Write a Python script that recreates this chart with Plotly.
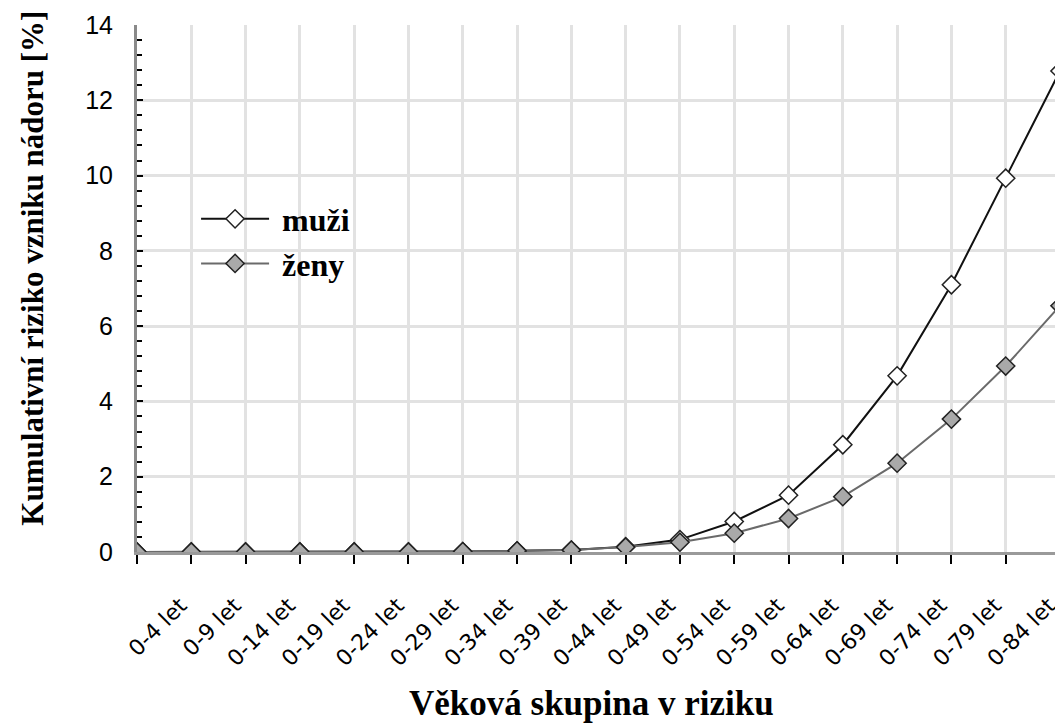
import plotly.graph_objects as go

# age groups (first position is the unlabeled start point at the y axis)
age_labels = ["", "0-4 let", "0-9 let", "0-14 let", "0-19 let", "0-24 let", "0-29 let",
              "0-34 let", "0-39 let", "0-44 let", "0-49 let", "0-54 let", "0-59 let",
              "0-64 let", "0-69 let", "0-74 let", "0-79 let", "0-84 let"]
positions = list(range(len(age_labels)))

muzi = [0, 0, 0, 0, 0, 0, 0.01, 0.03, 0.05, 0.14, 0.33, 0.81, 1.51, 2.85, 4.68, 7.1, 9.93, 12.78]
zeny = [0, 0, 0, 0, 0, 0, 0.01, 0.03, 0.05, 0.13, 0.26, 0.5, 0.89, 1.47, 2.36, 3.53, 4.94, 6.54]

SERIF = "Liberation Serif"
SANS = "Liberation Sans"

fig = go.Figure()
fig.add_trace(go.Scatter(
    x=positions, y=muzi, name="<b>\u00a0muži</b>", mode="lines+markers", legendrank=1,
    line=dict(color="#111111", width=2),
    marker=dict(symbol="diamond", size=14, color="white", line=dict(color="#222222", width=1.5)),
))
fig.add_trace(go.Scatter(
    x=positions, y=zeny, name="<b>\u00a0ženy</b>", mode="lines+markers", legendrank=2,
    line=dict(color="#6a6a6a", width=2),
    marker=dict(symbol="diamond", size=14, color="#a9a9a9", line=dict(color="#222222", width=1.5)),
))

# the page body adds an 8 px offset, so the figure is 8 px smaller than the window
fig.update_layout(
    width=1055, height=719,
    margin=dict(l=129, r=3, t=17, b=175, autoexpand=False),
    plot_bgcolor="white", paper_bgcolor="white",
    showlegend=True,
    legend=dict(x=0.064, y=0.684, xanchor="left", yanchor="top",
                bgcolor="rgba(0,0,0,0)", itemwidth=68, tracegroupgap=0,
                font=dict(family=SERIF, size=32, color="black")),
    annotations=[
        dict(text="<b>Kumulativní riziko vzniku nádoru [%]</b>", textangle=-90,
             xref="paper", yref="paper", x=-0.113, y=0.539, showarrow=False,
             xanchor="center", yanchor="middle",
             font=dict(family=SERIF, size=31, color="black")),
        dict(text="<b>Věková skupina v riziku</b>",
             xref="paper", yref="paper", x=0.492, y=-0.287, showarrow=False,
             xanchor="center", yanchor="middle",
             font=dict(family=SERIF, size=35, color="black")),
    ],
)

fig.update_xaxes(
    range=[0, 17], tickvals=positions, ticktext=age_labels, tickangle=-45,
    ticks="outside", ticklen=9, tickwidth=2, tickcolor="black",
    ticklabelstandoff=20, ticklabelshift=-11,
    ticklabeloverflow="allow", automargin=False,
    showline=True, linecolor="#9a9a9a", linewidth=3,
    showgrid=True, gridcolor="#e2e2e2", gridwidth=2.5,
    zeroline=False,
    tickfont=dict(family="DejaVu Sans", size=22, color="black"),
)
fig.update_yaxes(
    range=[0, 14], dtick=2, tick0=0, automargin=False,
    ticks="inside", ticklen=6, tickwidth=2, tickcolor="black",
    minor=dict(dtick=0.4, tick0=0, ticks="inside", ticklen=5, tickwidth=2,
               tickcolor="black", showgrid=False),
    showline=True, linecolor="#8a8a8a", linewidth=3,
    showgrid=True, gridcolor="#e2e2e2", gridwidth=2.5,
    zeroline=False,
    ticklabelstandoff=16,
    tickfont=dict(family=SANS, size=25, color="black"),
)

fig.write_html("out.html")
